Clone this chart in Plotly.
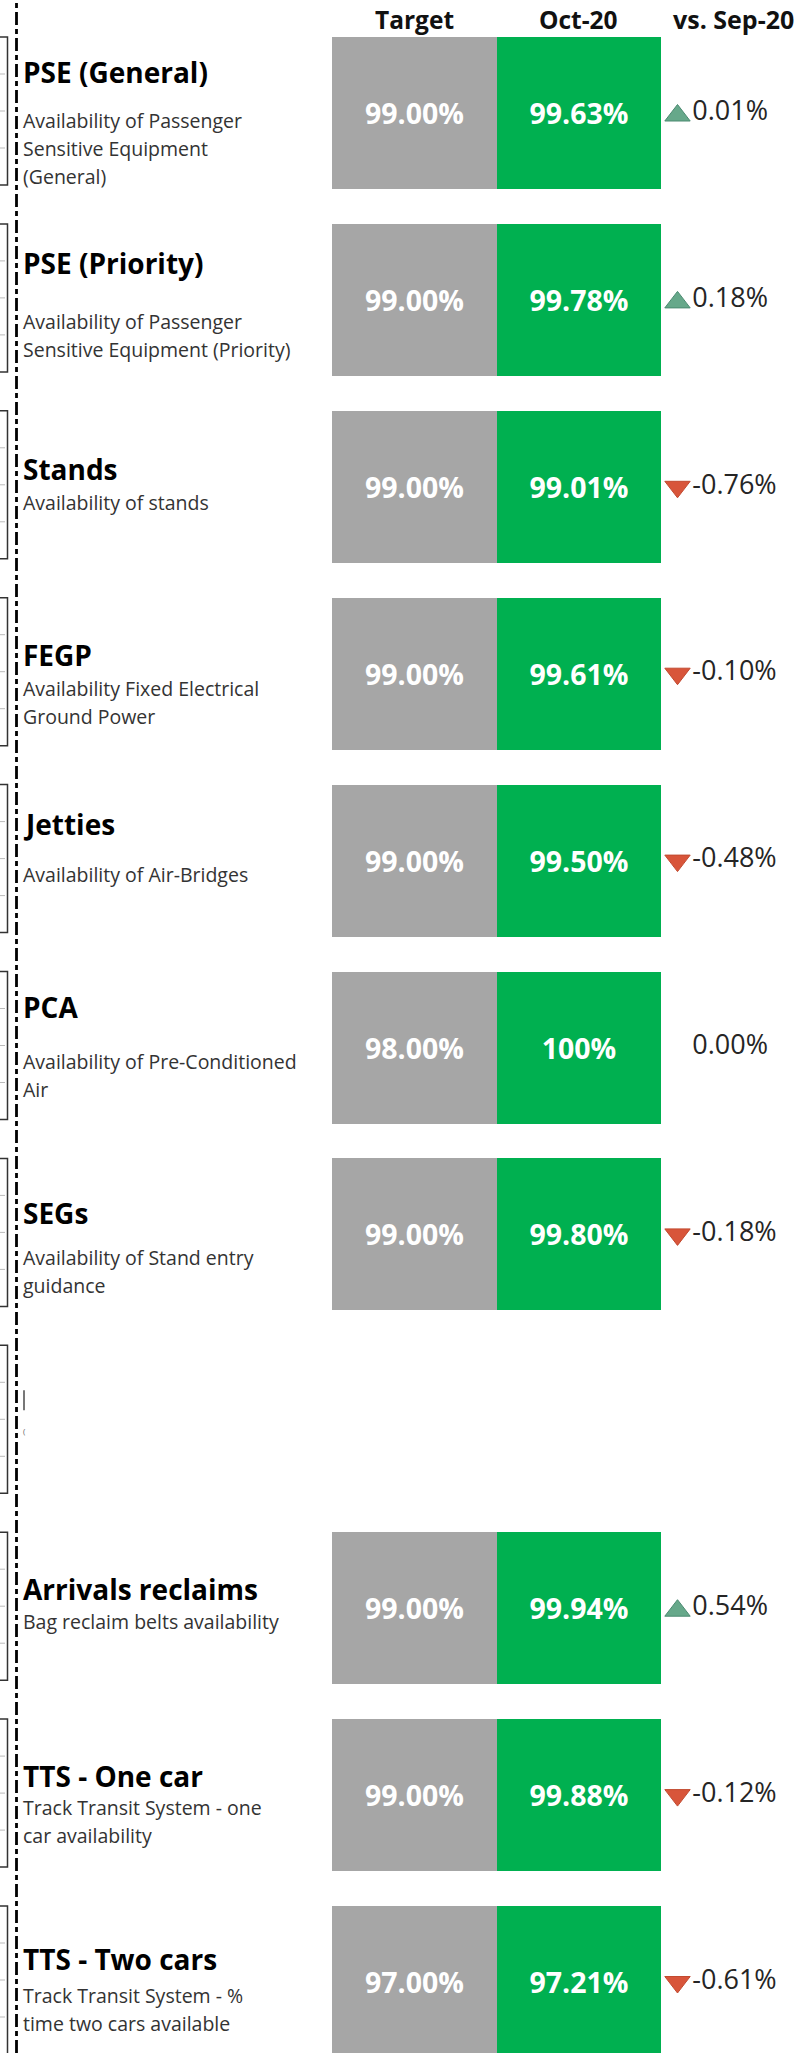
import plotly.graph_objects as go

# ---------------- data ----------------
titles = ["PSE (General)", "PSE (Priority)", "Stands", "FEGP", "Jetties", "PCA",
          "SEGs", "", "Arrivals reclaims", "TTS - One car", "TTS - Two cars"]
subtitles = [
    ["Availability of Passenger", "Sensitive Equipment", "(General)"],
    ["Availability of Passenger", "Sensitive Equipment (Priority)"],
    ["Availability of stands"],
    ["Availability Fixed Electrical", "Ground Power"],
    ["Availability of Air-Bridges"],
    ["Availability of Pre-Conditioned", "Air"],
    ["Availability of Stand entry", "guidance"],
    [],
    ["Bag reclaim belts availability"],
    ["Track Transit System - one", "car availability"],
    ["Track Transit System - %", "time two cars available"],
]
target = [99.00, 99.00, 99.00, 99.00, 99.00, 98.00, 99.00, None, 99.00, 99.00, 97.00]
oct20 = [99.63, 99.78, 99.01, 99.61, 99.50, 100.00, 99.80, None, 99.94, 99.88, 97.21]
vs_sep20 = [0.01, 0.18, -0.76, -0.10, -0.48, 0.00, -0.18, None, 0.54, -0.12, -0.61]
headers = ["Target", "Oct-20", "vs. Sep-20"]

# ---------------- layout constants ----------------
W, H = 795, 2053
ROW_PITCH = 186.9
ROW0_CENTER = 113.0
X0_PX = 332.0
COL_PX = 164.5
BAR_W = 152.0 / ROW_PITCH
FONT = "Open Sans"
GREY = "#A6A6A6"
GREEN = "#00B050"
UP = "#66A88A"
DOWN = "#D8553A"
UP_LINE = "#4A8A70"
DOWN_LINE = "#C24A30"

# per-row pixel offsets of the card texts (relative to the row centre)
title_dy = [-41, -37, -18, -19, -37, -41, -21, 0, -19, -19, -23]
sub_dy = [7, 22, 16, 15, 14, 14, 23, 0, 13, 12, 13]
SUB_LINE = 28
UP_SHIFT_PX = 2.5   # optical centring of up-triangles

n = len(titles)
rows = list(range(n))


def px_x(p):
    return (p - X0_PX) / COL_PX


def fmt(v):
    if v is None:
        return ""
    return "100%" if v == 100 else f"{v:.2f}%"


fig = go.Figure()

bar_common = dict(orientation="h", width=BAR_W, textposition="inside",
                  insidetextanchor="middle", textangle=0, constraintext="none",
                  textfont=dict(family=FONT, size=28.5, color="white", weight="bold"),
                  hoverinfo="skip", cliponaxis=False)
fig.add_trace(go.Bar(y=rows, x=[1 if v is not None else None for v in target], base=0,
                     marker=dict(color=GREY, line=dict(width=0)),
                     text=[fmt(v) for v in target], name="Target", **bar_common))
fig.add_trace(go.Bar(y=rows, x=[1 if v is not None else None for v in oct20], base=1,
                     marker=dict(color=GREEN, line=dict(width=0)),
                     text=[fmt(v) for v in oct20], name="Oct-20", **bar_common))

# delta column: arrows
d_rows = [r for r in rows if vs_sep20[r] is not None]
d_vals = [vs_sep20[r] for r in d_rows]
a_rows = [r for r, v in zip(d_rows, d_vals) if v != 0]
a_vals = [v for v in d_vals if v != 0]
fig.add_trace(go.Scatter(
    x=[px_x(677.5)] * len(a_rows),
    y=[r + (UP_SHIFT_PX / ROW_PITCH if v > 0 else 0) for r, v in zip(a_rows, a_vals)],
    mode="markers",
    marker=dict(symbol=["triangle-up" if v > 0 else "triangle-down" for v in a_vals], size=22,
                color=[UP if v > 0 else DOWN for v in a_vals],
                line=dict(width=1, color=[UP_LINE if v > 0 else DOWN_LINE for v in a_vals])),
    hoverinfo="skip", cliponaxis=False, name="arrow"))
# delta column: values (transparent markers keep the text offset)
fig.add_trace(go.Scatter(
    x=[px_x(677.5)] * len(d_rows), y=d_rows, mode="markers+text",
    marker=dict(symbol="circle", size=22, color="rgba(0,0,0,0)"),
    text=[f"{v:.2f}%" for v in d_vals], textposition="middle right",
    textfont=dict(family=FONT, size=27, color="#252525"),
    hoverinfo="skip", cliponaxis=False, name="vs. Sep-20"))

annotations = []
# headers
hdr_y = 1 - 19 / H
for i, h in enumerate(headers[:2]):
    annotations.append(dict(x=i + 0.5, xref="x", y=hdr_y, yref="paper", text=h,
                            showarrow=False, xanchor="center", yanchor="middle",
                            font=dict(family=FONT, size=24.5, color="#111", weight="bold")))
annotations.append(dict(x=px_x(671), xref="x", y=hdr_y, yref="paper", text=headers[2],
                        showarrow=False, xanchor="left", yanchor="middle",
                        font=dict(family=FONT, size=25, color="#111", weight="bold")))

TEXT_X = 20.5 / W
for r in rows:
    if titles[r]:
        annotations.append(dict(x=TEXT_X, xref="paper", y=r + title_dy[r] / ROW_PITCH, yref="y",
                                text=titles[r], showarrow=False, xanchor="left", yanchor="middle",
                                font=dict(family=FONT, size=28, color="#000", weight="bold")))
    for k, line in enumerate(subtitles[r]):
        annotations.append(dict(x=TEXT_X, xref="paper",
                                y=r + (sub_dy[r] + k * SUB_LINE) / ROW_PITCH, yref="y",
                                text=line, showarrow=False, xanchor="left", yanchor="middle",
                                font=dict(family=FONT, size=19.5, color="#333")))

# clipped remnant of the empty card
annotations.append(dict(x=TEXT_X, xref="paper", y=7 + 9 / ROW_PITCH, yref="y", text="(",
                        showarrow=False, xanchor="left", yanchor="middle",
                        font=dict(family=FONT, size=8, color="#666")))

shapes = []
# dash-dot divider
shapes.append(dict(type="line", xref="paper", yref="paper", x0=16.5 / W, x1=16.5 / W, y0=0, y1=1,
                   line=dict(color="black", width=2.8, dash="13px,4px,5px,4px")))
# left clipped boxes with tick marks
for r in rows:
    y0 = r - 76 / ROW_PITCH
    y1 = r + 72 / ROW_PITCH
    shapes.append(dict(type="rect", xref="paper", yref="y", x0=-10 / W, x1=7.5 / W, y0=y0, y1=y1,
                       line=dict(color="#333", width=1.5), fillcolor="rgba(0,0,0,0)"))
    for q in (1, 2, 3):
        yy = y0 + (y1 - y0) * q / 4
        shapes.append(dict(type="line", xref="paper", yref="y", x0=0, x1=5 / W, y0=yy, y1=yy,
                           line=dict(color="#BBB", width=1)))
# small remnant bar in the empty card
shapes.append(dict(type="line", xref="paper", yref="y", x0=24 / W, x1=24 / W,
                   y0=7 - 31 / ROW_PITCH, y1=7 - 11 / ROW_PITCH,
                   line=dict(color="#777", width=2)))

fig.update_layout(
    width=W, height=H, margin=dict(l=0, r=0, t=0, b=0, pad=0),
    paper_bgcolor="white", plot_bgcolor="white", showlegend=False,
    barmode="overlay", bargap=0,
    xaxis=dict(range=[px_x(0), px_x(W)], visible=False, fixedrange=True),
    yaxis=dict(range=[(H - ROW0_CENTER) / ROW_PITCH, -ROW0_CENTER / ROW_PITCH],
               visible=False, fixedrange=True),
    annotations=annotations, shapes=shapes,
    font=dict(family=FONT),
)

fig.write_html("out.html", config={"displayModeBar": False},
               post_script="document.body.style.margin='0px';document.body.style.padding='0px';"
                           "document.documentElement.style.overflow='hidden';")
